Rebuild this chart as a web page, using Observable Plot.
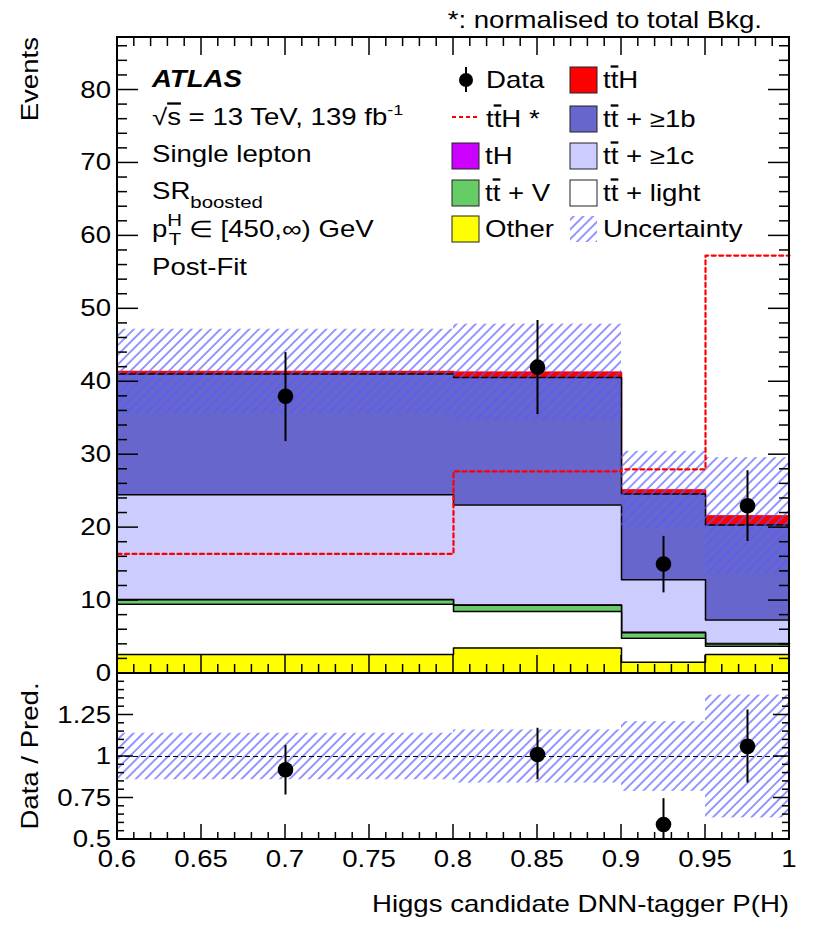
<!DOCTYPE html>
<html>
<head>
<meta charset="utf-8">
<script src="https://cdn.jsdelivr.net/npm/d3@7"></script>
<script src="https://cdn.jsdelivr.net/npm/@observablehq/plot@0.6"></script>
<style>
  body { margin: 0; background: white; }
  #wrap { position: relative; width: 830px; height: 936px; background: white; font-family: "Liberation Sans", Arial, sans-serif; }
  #wrap svg { position: absolute; left: 0; overflow: visible; }
</style>
</head>
<body>
<div id="wrap"></div>
<script>
// ---------------- DATA ----------------
const binLo = [0.6, 0.8, 0.9, 0.95];
const binHi = [0.8, 0.9, 0.95, 1.0];
// stacked components (bottom -> top), events per bin
const other   = [2.6, 3.5, 1.55, 2.6];
const ttLight = [6.9, 5.0, 3.3, 1.15];
const ttV     = [0.6, 0.85, 0.75, 0.3];
const tH      = [0.05, 0.05, 0.05, 0.05];
const tt1c    = [14.35, 13.7, 7.2, 3.25];
const tt1b    = [16.55, 17.5, 11.75, 13.0];
const ttH     = [0.35, 0.7, 0.55, 1.25];
const uncAbs  = [5.8, 6.6, 5.3, 8.0];
const ttHnorm = [16.4, 27.7, 28.0, 57.3];
const dataX   = [0.7, 0.85, 0.925, 0.975];
const dataY   = [38, 42, 15, 23];
const dataLo  = [31.8, 35.5, 11.05, 18.1];
const dataHi  = [44.0, 48.4, 18.8, 27.8];
const ratioY  = [0.92, 1.012, 0.59, 1.061];
const ratioLo = [0.768, 0.86, 0.44, 0.84];
const ratioHi = [1.067, 1.17, 0.746, 1.28];
const ratioUnc = [0.14, 0.16, 0.21, 0.37];
const xTickLabels = [0.6, 0.65, 0.7, 0.75, 0.8, 0.85, 0.9, 0.95, 1];
const yTickLabelsMain = [0, 10, 20, 30, 40, 50, 60, 70, 80];
const yTickLabelsRatio = [0.5, 0.75, 1, 1.25];

const layerNames  = ["Other", "ttlight", "ttV", "tH", "tt1c", "tt1b", "ttH"];
const layerValues = [other, ttLight, ttV, tH, tt1c, tt1b, ttH];
const layerColors = ["#ffff00", "#ffffff", "#66cc66", "#cc00ff", "#ccccff", "#6666cc", "#ff0000"];
const layerLines  = ["#000", "#000", "#000", "#000", "#000", "#000", "#ff0000"];

// ---------------- helpers ----------------
const NS = "http://www.w3.org/2000/svg";
const SX = 1.2;      // horizontal stretch of the reference typeface
const FS = 23;
const HATCH = "#5858ff";

function el(name, attrs, parent) {
  const e = document.createElementNS(NS, name);
  for (const k in attrs) e.setAttribute(k, attrs[k]);
  if (parent) parent.appendChild(e);
  return e;
}
function T(parent, x, y, content, o = {}) {
  const t = el("text", {
    transform: `translate(${x},${y})` + (o.rotate ? ` rotate(${o.rotate})` : "") + ` scale(${o.sx ?? SX},1)`,
    "text-anchor": o.anchor || "start",
    "font-size": o.size || FS,
    fill: "black"
  }, parent);
  if (o.weight) t.setAttribute("font-weight", o.weight);
  if (o.style) t.setAttribute("font-style", o.style);
  const parts = typeof content === "string" ? [{t: content}] : content;
  for (const p of parts) {
    const s = el("tspan", {}, t);
    s.textContent = p.t;
    if (p.dy) s.setAttribute("dy", p.dy);
    if (p.size) s.setAttribute("font-size", p.size);
    if (p.deco) s.setAttribute("text-decoration", p.deco);
    if (p.dx) s.setAttribute("dx", p.dx);
  }
  return t;
}
function hatchDef(g, id) {
  const defs = el("defs", {}, g);
  const p = el("pattern", {id, patternUnits: "userSpaceOnUse", width: 6.8, height: 6.8, patternTransform: "rotate(45)"}, defs);
  el("line", {x1: 1, y1: 0, x2: 1, y2: 6.8, stroke: HATCH, "stroke-width": 1.25}, p);
}
const tthParts = (extra = "") => [{t: "t"}, {t: "t", deco: "overline"}, {t: "H" + extra}];
const ttParts = (extra) => [{t: "t"}, {t: "t", deco: "overline"}, {t: extra}];

// ---------------- derived table ----------------
const bins = binLo.map((lo, i) => ({i, lo, hi: binHi[i]}));
const cum = [];
layerValues.forEach((arr, k) => cum.push(arr.map((v, i) => v + (k ? cum[k - 1][i] : 0))));
const total = cum[cum.length - 1];
const stepPts = (vals) => [...binLo.map((lo, i) => ({x: lo, y: vals[i]})), {x: binHi[3], y: vals[3]}];

// ---------------- main panel ----------------
const stackMarks = [];
for (let k = layerValues.length - 1; k >= 0; k--) {
  stackMarks.push(Plot.rect(bins, {x1: "lo", x2: "hi", y1: 0, y2: d => cum[k][d.i], fill: layerColors[k]}));
  stackMarks.push(Plot.line(stepPts(cum[k]), {x: "x", y: "y", curve: "step-after", stroke: layerLines[k], strokeWidth: 1.5}));
}

function ticksMark(cfg) {
  return (index, scales, values, dim) => {
    const g = el("g", {stroke: "black", "stroke-width": 1.5, fill: "none"});
    const L = dim.marginLeft, R = dim.width - dim.marginRight, Tp = dim.marginTop, B = dim.height - dim.marginBottom;
    const xs = d3.range(0, 41).map(i => Math.round((0.6 + i * 0.01) * 100) / 100);
    xs.forEach((v, i) => {
      const X = scales.x(v), major = i % 5 === 0;
      const len = major ? cfg.xMaj : cfg.xMin;
      el("line", {x1: X, x2: X, y1: B, y2: B - len}, g);
      if (cfg.top) el("line", {x1: X, x2: X, y1: Tp, y2: Tp + len}, g);
    });
    const [y0, y1] = scales.y.domain();
    const n = Math.floor((y1 - y0) / cfg.yStep + 1e-6);
    for (let i = 0; i <= n; i++) {
      const v = y0 + i * cfg.yStep, Y = scales.y(v), major = i % cfg.yEvery === 0;
      const len = major ? cfg.yMaj : cfg.yMin;
      el("line", {x1: L, x2: L + len, y1: Y, y2: Y}, g);
      el("line", {x1: R, x2: R - len, y1: Y, y2: Y}, g);
    }
    el("rect", {x: L, y: Tp, width: R - L, height: B - Tp, "stroke-width": 2}, g);
    // labels
    const lg = el("g", {stroke: "none"}, g);
    cfg.yLabels.forEach(v => T(lg, L - 6, scales.y(v) + 8, String(v), {anchor: "end"}));
    if (cfg.xLabels) cfg.xLabels.forEach(v => T(lg, scales.x(v), B + 28, String(v), {anchor: "middle"}));
    return g;
  };
}

function mainOverlay(index, scales, values, dim) {
  const g = el("g", {});
  T(g, 762, 28, "*: normalised to total Bkg.", {anchor: "end"});
  T(g, 38, 37, "Events", {anchor: "end", rotate: -90});
  // ATLAS label block
  const x0 = 152;
  T(g, x0, 87, "ATLAS", {weight: "bold", style: "italic"});
  T(g, x0, 125, [{t: "√"}, {t: "s", deco: "overline"}, {t: " = 13 TeV, 139 fb"}, {t: "-1", dy: -10, size: 15}]);
  T(g, x0, 162, "Single lepton");
  T(g, x0, 199, [{t: "SR"}, {t: "boosted", dy: 9, size: 17}]);
  T(g, x0, 237, [{t: "p"}, {t: "H", dy: -11, size: 17}, {t: "T", dy: 19, dx: -11, size: 17}, {t: " ∈ [450,∞) GeV", dy: -8}]);
  T(g, x0, 275, "Post-Fit");
  // legend
  const rows = [88, 127, 164, 201, 237];
  const c1 = 452, c2 = 570, bw = 27, bh = 26;
  const box = (x, yb, fill) => el("rect", {x, y: yb - 21, width: bw, height: bh, fill, stroke: "#222", "stroke-width": 1}, g);
  // Data
  el("circle", {cx: 466, cy: rows[0] - 8, r: 7, fill: "black"}, g);
  el("line", {x1: 466, x2: 466, y1: rows[0] - 21, y2: rows[0] + 4, stroke: "black", "stroke-width": 2}, g);
  T(g, 486, rows[0], "Data");
  el("line", {x1: c1, x2: c1 + 28, y1: rows[1] - 10, y2: rows[1] - 10, stroke: "red", "stroke-width": 2, "stroke-dasharray": "4,3"}, g);
  T(g, 486, rows[1], tthParts(" *"));
  box(c1, rows[2], layerColors[3]); T(g, 485, rows[2], "tH");
  box(c1, rows[3], layerColors[2]); T(g, 485, rows[3], ttParts(" + V"));
  box(c1, rows[4], layerColors[0]); T(g, 485, rows[4], "Other");
  box(c2, rows[0], layerColors[6]); T(g, 603, rows[0], tthParts());
  box(c2, rows[1], layerColors[5]); T(g, 603, rows[1], ttParts(" + ≥1b"));
  box(c2, rows[2], layerColors[4]); T(g, 603, rows[2], ttParts(" + ≥1c"));
  box(c2, rows[3], layerColors[1]); T(g, 603, rows[3], ttParts(" + light"));
  el("rect", {x: c2, y: rows[4] - 21, width: bw, height: bh, fill: "url(#hatchLeg)"}, g);
  T(g, 603, rows[4], "Uncertainty");
  return g;
}

const main = Plot.plot({
  width: 830, height: 673,
  marginLeft: 117, marginRight: 41, marginTop: 37, marginBottom: 0,
  x: {domain: [0.6, 1], axis: null},
  y: {domain: [0, 87.2], axis: null},
  style: {background: "transparent", overflow: "visible", fontFamily: "Liberation Sans, Arial, sans-serif"},
  marks: [
    () => { const g = el("g", {}); hatchDef(g, "hatchMain"); hatchDef(g, "hatchLeg"); return g; },
    ...stackMarks,
    Plot.rect(bins, {x1: "lo", x2: "hi", y1: d => total[d.i] - uncAbs[d.i], y2: d => total[d.i] + uncAbs[d.i], fill: "url(#hatchMain)"}),
    Plot.line(stepPts(ttHnorm), {x: "x", y: "y", curve: "step-after", stroke: "#ff0000", strokeWidth: 2.2, strokeDasharray: "4,3.5"}),
    Plot.ruleX(bins, {x: d => dataX[d.i], y1: d => dataLo[d.i], y2: d => dataHi[d.i], stroke: "black", strokeWidth: 2}),
    Plot.dot(bins, {x: d => dataX[d.i], y: d => dataY[d.i], r: 7.8, fill: "black", stroke: "none"}),
    ticksMark({top: true, xMaj: 18, xMin: 9, yStep: 2, yEvery: 5, yMaj: 21, yMin: 10, yLabels: yTickLabelsMain}),
    mainOverlay
  ]
});
main.style.top = "0px";

// ---------------- ratio panel ----------------
function ratioOverlay(index, scales, values, dim) {
  const g = el("g", {});
  T(g, 38, (dim.marginTop + dim.height - dim.marginBottom) / 2, "Data / Pred.", {anchor: "middle", rotate: -90});
  T(g, dim.width - dim.marginRight, 239, "Higgs candidate DNN-tagger P(H)", {anchor: "end"});
  return g;
}

const ratio = Plot.plot({
  width: 830, height: 263,
  marginLeft: 117, marginRight: 41, marginTop: 0, marginBottom: 97,
  x: {domain: [0.6, 1], axis: null},
  y: {domain: [0.5, 1.5], axis: null},
  style: {background: "transparent", overflow: "visible", fontFamily: "Liberation Sans, Arial, sans-serif"},
  marks: [
    () => { const g = el("g", {}); hatchDef(g, "hatchRatio"); return g; },
    Plot.rect(bins, {x1: "lo", x2: "hi", y1: d => 1 - ratioUnc[d.i], y2: d => 1 + ratioUnc[d.i], fill: "url(#hatchRatio)"}),
    Plot.ruleY([1], {stroke: "black", strokeWidth: 1.2, strokeDasharray: "5,3"}),
    Plot.ruleX(bins, {x: d => dataX[d.i], y1: d => ratioLo[d.i], y2: d => ratioHi[d.i], stroke: "black", strokeWidth: 2, clip: true}),
    Plot.dot(bins, {x: d => dataX[d.i], y: d => ratioY[d.i], r: 7.8, fill: "black", stroke: "none"}),
    ticksMark({top: false, xMaj: 15, xMin: 7, yStep: 0.05, yEvery: 5, yMaj: 16, yMin: 7, yLabels: yTickLabelsRatio, xLabels: xTickLabels}),
    ratioOverlay
  ]
});
ratio.style.top = "673px";

const wrap = document.getElementById("wrap");
wrap.appendChild(main);
wrap.appendChild(ratio);
</script>
</body>
</html>
